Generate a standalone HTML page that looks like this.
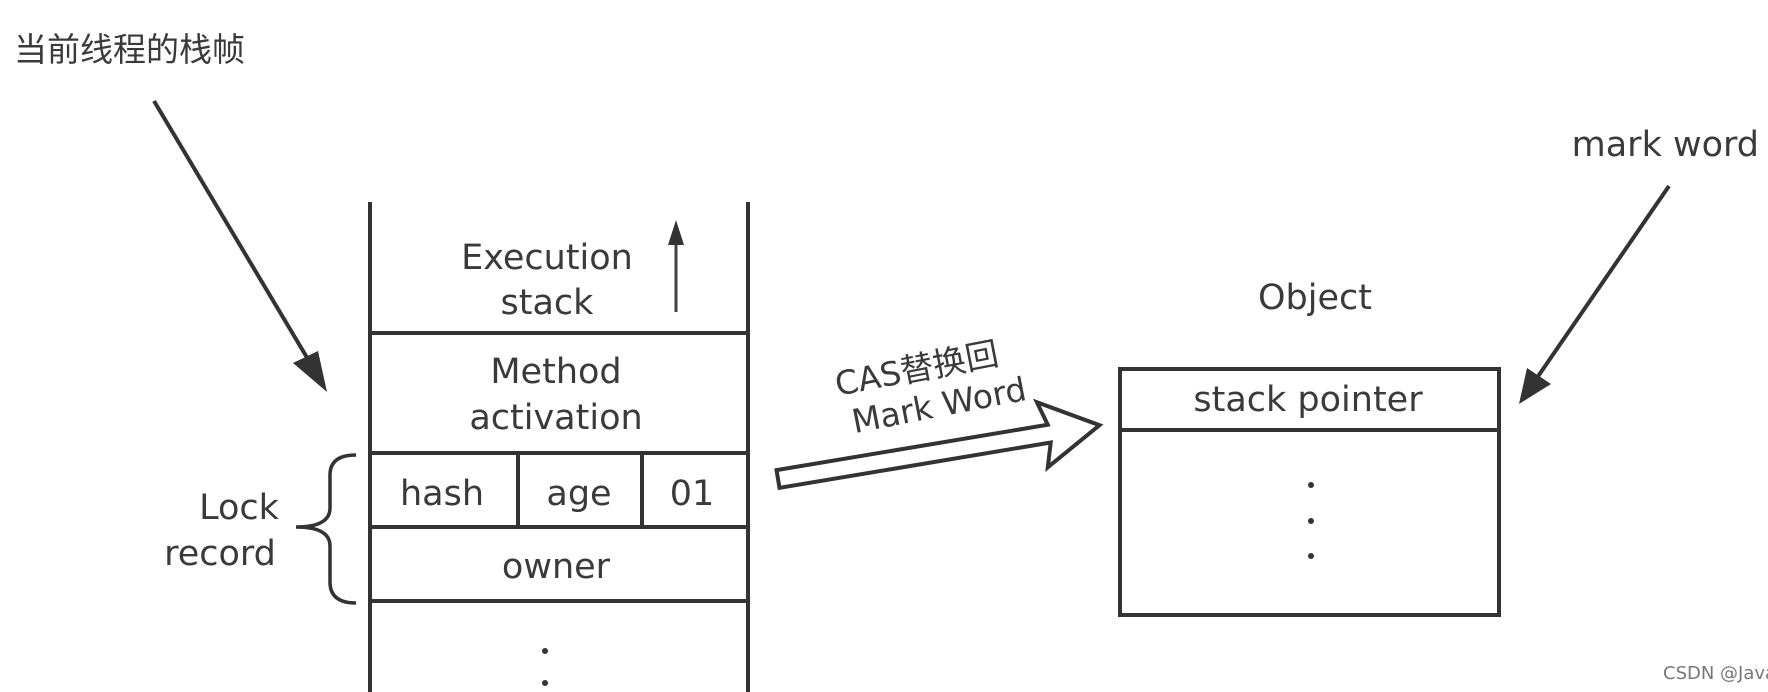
<!DOCTYPE html>
<html><head><meta charset="utf-8"><style>
html,body{margin:0;padding:0;background:#fff;}
svg{display:block;}
text{font-family:"DejaVu Sans","Liberation Sans","Noto Sans CJK SC",sans-serif;fill:#3a3a3a;}
</style></head><body>
<svg width="1768" height="692" viewBox="0 0 1768 692" xmlns="http://www.w3.org/2000/svg">
<defs>
<marker id="ah" markerWidth="10" markerHeight="8" refX="9" refY="4" orient="auto" markerUnits="userSpaceOnUse" viewBox="0 0 10 8">
</marker>
</defs>
<!-- title -->
<text x="14" y="61" font-size="33" font-family="Noto Sans CJK SC, sans-serif">当前线程的栈帧</text>
<!-- left arrow -->
<line x1="154" y1="101" x2="318" y2="376" stroke="#333" stroke-width="4"/>
<polygon points="327,392 293,363 318,351" fill="#333"/>
<!-- stack -->
<g stroke="#333" stroke-width="4" fill="none">
<line x1="370" y1="202" x2="370" y2="692"/>
<line x1="748" y1="202" x2="748" y2="692"/>
<line x1="370" y1="333" x2="748" y2="333"/>
<line x1="370" y1="453" x2="748" y2="453"/>
<line x1="370" y1="527" x2="748" y2="527"/>
<line x1="370" y1="601" x2="748" y2="601"/>
<line x1="518" y1="453" x2="518" y2="527"/>
<line x1="642" y1="453" x2="642" y2="527"/>
</g>
<line x1="676" y1="312" x2="676" y2="240" stroke="#444" stroke-width="3"/>
<polygon points="676,220 668,245 684,245" fill="#333"/>
<g font-size="35" text-anchor="middle">
<text x="547" y="269">Execution</text>
<text x="547" y="314">stack</text>
<text x="556" y="383">Method</text>
<text x="556" y="429">activation</text>
<text x="442" y="505">hash</text>
<text x="579" y="505">age</text>
<text x="692" y="505">01</text>
<text x="556" y="578">owner</text>
<text x="239" y="519">Lock</text>
<text x="220" y="565">record</text>
<text x="1315" y="309">Object</text>
<text x="1308" y="411">stack pointer</text>
<text x="1759" y="156" text-anchor="end">mark word</text>
</g>
<g fill="#333">
<circle cx="545" cy="651" r="3"/>
<circle cx="545" cy="683" r="3"/>
<circle cx="1311" cy="485" r="3"/>
<circle cx="1311" cy="521" r="3"/>
<circle cx="1311" cy="556" r="3"/>
</g>
<!-- brace -->
<path d="M356,455 Q330,455 330,475 L330,508 Q330,527 296,527 Q330,527 330,546 L330,582 Q330,603 356,603" stroke="#333" stroke-width="3.5" fill="none"/>
<!-- hollow arrow -->
<g transform="translate(778,479) rotate(-9.5)">
<polygon points="0,-9 275,-9 268,-33 326,0 268,33 275,9 0,9" fill="#fff" stroke="#333" stroke-width="4" stroke-linejoin="miter"/>
</g>
<g transform="rotate(-11 930 385)" font-size="33" text-anchor="middle">
<text x="920" y="378" font-family="DejaVu Sans, Noto Sans CJK SC, sans-serif">CAS替换回</text>
<text x="935" y="418">Mark Word</text>
</g>
<!-- object box -->
<g stroke="#333" stroke-width="4" fill="none">
<rect x="1120" y="369" width="379" height="246"/>
<line x1="1120" y1="430" x2="1499" y2="430"/>
</g>
<!-- right arrow -->
<line x1="1669" y1="186" x2="1530" y2="388" stroke="#333" stroke-width="4"/>
<polygon points="1519,404 1527,368 1551,384" fill="#333"/>
<text x="1663" y="679" font-size="18" fill="#777" style="fill:#777" font-family="Liberation Sans, sans-serif">CSDN @JavaEdge.</text>
</svg>
</body></html>
